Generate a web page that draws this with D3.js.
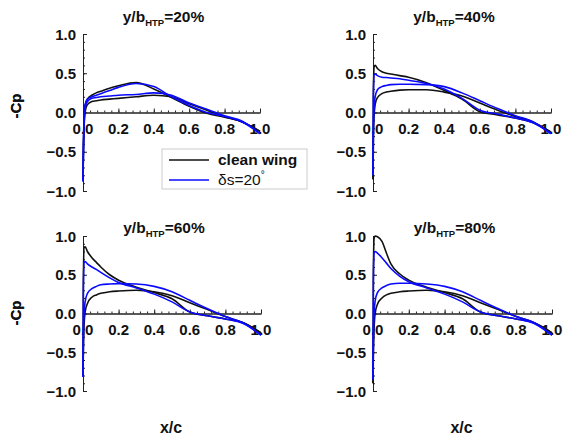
<!DOCTYPE html>
<html>
<head>
<meta charset="utf-8">
<script src="https://cdn.jsdelivr.net/npm/d3@7"></script>
<style>
  body { margin: 0; background: #fff; }
  text { font-family: "Liberation Sans", Arial, sans-serif; fill: #111; }
  .axis path, .axis line { stroke: #222; stroke-width: 1; }
</style>
</head>
<body>
<svg id="chart" width="565" height="439"></svg>
<script>
// chord stations (x/c), shared by every curve
var xc = [0, 0.002, 0.006, 0.012, 0.025, 0.05, 0.075, 0.1, 0.15, 0.2, 0.3, 0.4, 0.5, 0.6, 0.7, 0.8, 0.9, 1.0]

// -Cp values, y/b = 20%
var clean20Up = [-0.85, -0.5, -0.1, 0.08, 0.17, 0.22, 0.25, 0.27, 0.31, 0.34, 0.38, 0.30, 0.19, 0.08, -0.01, -0.06, -0.12, -0.24]
var clean20Lo = [-0.85, -0.55, -0.2, 0.0, 0.1, 0.14, 0.15, 0.16, 0.17, 0.18, 0.2, 0.22, 0.2, 0.11, 0.03, -0.05, -0.12, -0.24]
var flap20Up = [-0.88, -0.5, -0.05, 0.1, 0.17, 0.2, 0.22, 0.24, 0.28, 0.32, 0.37, 0.33, 0.2, 0.09, 0.0, -0.05, -0.12, -0.27]
var flap20Lo = [-0.88, -0.55, -0.15, 0.05, 0.14, 0.18, 0.19, 0.2, 0.21, 0.22, 0.23, 0.25, 0.22, 0.12, 0.04, -0.04, -0.11, -0.27]

// y/b = 40%
var clean40Up = [-0.85, 0.2, 0.58, 0.6, 0.56, 0.52, 0.5, 0.49, 0.47, 0.45, 0.38, 0.28, 0.17, 0.01, -0.03, -0.07, -0.13, -0.25]
var clean40Lo = [-0.85, -0.4, -0.05, 0.1, 0.19, 0.24, 0.26, 0.27, 0.285, 0.29, 0.29, 0.26, 0.21, 0.12, 0.03, -0.05, -0.12, -0.25]
var flap40Up = [-0.8, 0.2, 0.48, 0.49, 0.47, 0.45, 0.445, 0.44, 0.43, 0.41, 0.37, 0.3, 0.18, 0.03, -0.02, -0.07, -0.13, -0.27]
var flap40Lo = [-0.8, -0.3, 0.05, 0.2, 0.29, 0.33, 0.345, 0.355, 0.36, 0.36, 0.355, 0.33, 0.25, 0.15, 0.05, -0.04, -0.12, -0.27]

// y/b = 60%
var clean60Up = [-0.8, 0.4, 0.85, 0.86, 0.8, 0.72, 0.66, 0.6, 0.5, 0.43, 0.34, 0.27, 0.19, 0.02, -0.03, -0.07, -0.12, -0.25]
var clean60Lo = [-0.8, -0.5, -0.15, 0.02, 0.13, 0.21, 0.24, 0.26, 0.28, 0.29, 0.3, 0.28, 0.23, 0.14, 0.05, -0.04, -0.12, -0.25]
var flap60Up = [-0.82, 0.3, 0.66, 0.67, 0.64, 0.6, 0.57, 0.53, 0.46, 0.4, 0.33, 0.25, 0.15, 0.02, -0.03, -0.07, -0.13, -0.28]
var flap60Lo = [-0.82, -0.4, 0.0, 0.15, 0.26, 0.32, 0.35, 0.37, 0.38, 0.385, 0.38, 0.35, 0.28, 0.17, 0.06, -0.04, -0.12, -0.28]

// y/b = 80%
var clean80Up = [-0.9, 0.5, 0.97, 1.0, 0.99, 0.93, 0.78, 0.64, 0.51, 0.43, 0.34, 0.27, 0.19, 0.02, -0.03, -0.07, -0.12, -0.25]
var clean80Lo = [-0.9, -0.55, -0.2, 0.0, 0.12, 0.2, 0.24, 0.26, 0.28, 0.29, 0.3, 0.28, 0.23, 0.14, 0.05, -0.04, -0.12, -0.25]
var flap80Up = [-0.85, 0.4, 0.78, 0.8, 0.78, 0.72, 0.65, 0.58, 0.48, 0.41, 0.33, 0.25, 0.15, 0.02, -0.03, -0.07, -0.13, -0.28]
var flap80Lo = [-0.85, -0.4, 0.0, 0.16, 0.27, 0.33, 0.36, 0.38, 0.39, 0.39, 0.38, 0.35, 0.28, 0.17, 0.06, -0.04, -0.12, -0.28]

var stations = ['20%', '40%', '60%', '80%']
var xTicks = [0, 0.2, 0.4, 0.6, 0.8, 1.0]
var yTicks = [1.0, 0.5, 0.0, -0.5, -1.0]
var seriesNames = ['clean wing', 'δs=20']
var seriesColors = ['#111111', '#0a0aff']

var curves = [
  [clean20Up, clean20Lo, flap20Up, flap20Lo],
  [clean40Up, clean40Lo, flap40Up, flap40Lo],
  [clean60Up, clean60Lo, flap60Up, flap60Lo],
  [clean80Up, clean80Lo, flap80Up, flap80Lo]
]

var svg = d3.select('#chart')

// panel frames (pixel boxes for the axes)
var frames = [
  { left: 83, right: 260, top: 34, bottom: 191 },
  { left: 373, right: 551, top: 34, bottom: 191 },
  { left: 83, right: 261, top: 236, bottom: 391 },
  { left: 373, right: 552, top: 236, bottom: 391 }
]
var titleY = [22, 22, 233, 233]

frames.forEach(function(f, i) {
  var x = d3.scaleLinear().domain([0, 1]).range([f.left, f.right])
  var y = d3.scaleLinear().domain([-1, 1]).range([f.bottom, f.top])
  var g = svg.append('g')

  // y axis: major + minor ticks pointing inside
  g.append('g').attr('class', 'axis')
    .attr('transform', 'translate(' + f.left + ',0)')
    .call(d3.axisRight(y).tickValues(yTicks).tickSize(4).tickSizeOuter(4).tickFormat(''))
  g.append('g').attr('class', 'axis')
    .attr('transform', 'translate(' + f.left + ',0)')
    .call(d3.axisRight(y).tickValues(d3.range(-10, 11).map(function(d) { return d / 10 }))
      .tickSize(2).tickSizeOuter(0).tickFormat(''))

  // x axis along -Cp = 0
  g.append('g').attr('class', 'axis')
    .attr('transform', 'translate(0,' + y(0) + ')')
    .call(d3.axisTop(x).tickValues(xTicks).tickSize(4).tickSizeOuter(0).tickFormat(''))
  g.append('g').attr('class', 'axis')
    .attr('transform', 'translate(0,' + y(0) + ')')
    .call(d3.axisTop(x).tickValues(d3.range(0, 26).map(function(d) { return d * 0.04 }))
      .tickSize(2).tickSizeOuter(0).tickFormat(''))
  g.selectAll('.axis text').remove()

  // tick labels
  g.selectAll('.ylab').data(yTicks).enter().append('text')
    .attr('x', f.left - 7).attr('y', function(d) { return y(d) + 5.5 })
    .attr('text-anchor', 'end')
    .style('font-size', '15px').style('font-weight', 'bold')
    .text(function(d) { return d3.format('.1f')(d) })
  g.selectAll('.xlab').data(xTicks).enter().append('text')
    .attr('x', function(d) { return x(d) }).attr('y', y(0) + 21)
    .attr('text-anchor', 'middle')
    .style('font-size', '15px').style('font-weight', 'bold')
    .text(function(d) { return d3.format('.1f')(d) })

  // curves
  var line = d3.line()
    .x(function(d) { return x(d[0]) })
    .y(function(d) { return y(d[1]) })
    .curve(d3.curveMonotoneX)
  curves[i].forEach(function(vals, k) {
    g.append('path')
      .datum(xc.map(function(xv, j) { return [xv, vals[j]] }))
      .attr('d', line)
      .attr('fill', 'none')
      .attr('stroke', seriesColors[k < 2 ? 0 : 1])
      .attr('stroke-width', 1.6)
      .attr('stroke-linejoin', 'round')
  })

  // title
  var t = g.append('text')
    .attr('x', (f.left + f.right) / 2 - 8).attr('y', titleY[i])
    .attr('text-anchor', 'middle')
    .style('font-size', '15.5px').style('font-weight', 'bold')
  t.append('tspan').text('y/b')
  t.append('tspan').attr('dy', 4).style('font-size', '9.5px').text('HTP')
  t.append('tspan').attr('dy', -4).text('=' + stations[i])

  // y label
  var cy = i < 2 ? 106 : 313
  g.append('text')
    .attr('transform', 'translate(21,' + cy + ') rotate(-90)')
    .attr('text-anchor', 'middle')
    .style('font-size', '15px').style('font-weight', 'bold')
    .text('-Cp')

  // x label on bottom row
  if (i >= 2) {
    g.append('text')
      .attr('x', (f.left + f.right) / 2 - 1).attr('y', 433)
      .attr('text-anchor', 'middle')
      .style('font-size', '16px').style('font-weight', 'bold')
      .text('x/c')
  }
})

// legend
var lg = svg.append('g').attr('transform', 'translate(162,149)')
lg.append('rect').attr('width', 145).attr('height', 40)
  .attr('fill', '#fff').attr('stroke', '#ccc').attr('stroke-width', 1)
seriesNames.forEach(function(name, k) {
  var yy = 11 + k * 20
  lg.append('line').attr('x1', 7).attr('x2', 47).attr('y1', yy).attr('y2', yy)
    .attr('stroke', seriesColors[k]).attr('stroke-width', 1.3)
  var t = lg.append('text').attr('x', 56).attr('y', yy + 5)
    .style('font-size', '15.5px')
    .style('font-weight', k === 0 ? 'bold' : 'normal')
  t.append('tspan').text(name)
  if (k === 1) t.append('tspan').attr('dy', -7).style('font-size', '10px').text('°')
})
</script>
</body>
</html>
